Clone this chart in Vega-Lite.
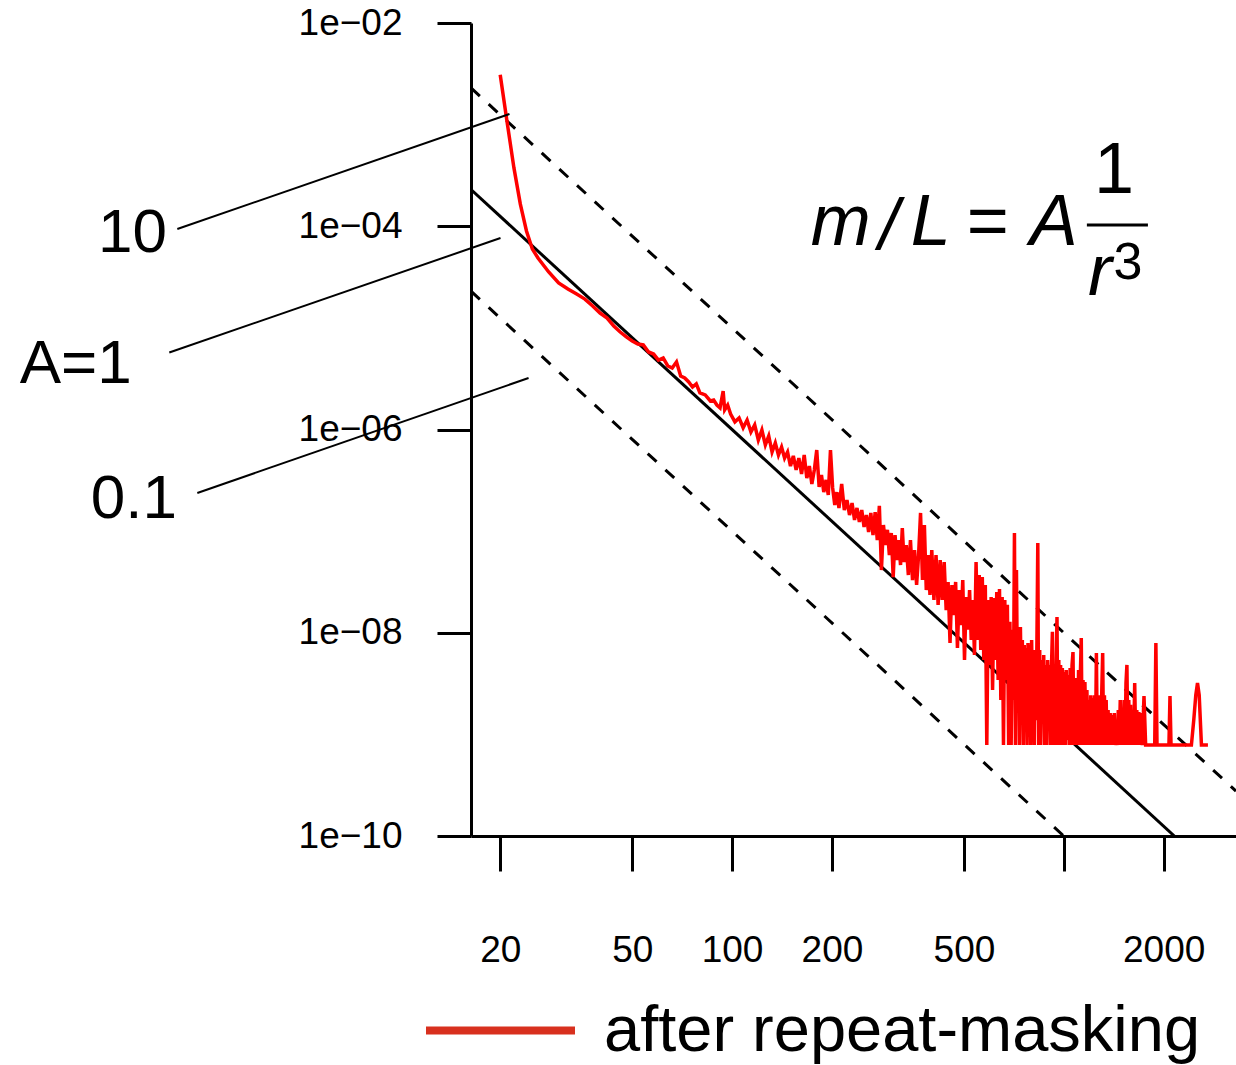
{
  "$schema": "https://vega.github.io/schema/vega-lite/v6.json",
  "width": 765,
  "height": 813,
  "autosize": {"type": "none"},
  "padding": {"left": 471, "top": 23, "right": 0, "bottom": 229},
  "background": "white",
  "config": {"view": {"stroke": null}, "font": "Liberation Sans"},
  "datasets": {
    "red": [
      {"r":20,"m":3.09e-3},{"r":21,"m":1.04e-3},{"r":22,"m":3.75e-4},{"r":23,"m":1.65e-4},{"r":24,"m":8.98e-5},{"r":25,"m":5.97e-5},{"r":26,"m":4.87e-5},{"r":28,"m":3.55e-5},{"r":30,"m":2.77e-5},{"r":32,"m":2.41e-5},{"r":34,"m":2.15e-5},{"r":36,"m":1.92e-5},{"r":38,"m":1.64e-5},{"r":40,"m":1.40e-5},{"r":42,"m":1.25e-5},{"r":44,"m":1.04e-5},{"r":46,"m":9.11e-6},{"r":48,"m":8.14e-6},{"r":50,"m":7.43e-6},
      {"r":52,"m":6.94e-6},{"r":54,"m":6.79e-6},{"r":56,"m":5.79e-6},{"r":58,"m":5.53e-6},{"r":60,"m":4.83e-6},{"r":62,"m":5.06e-6},{"r":64,"m":4.22e-6},{"r":66,"m":4.03e-6},{"r":68,"m":4.62e-6},{"r":70,"m":3.36e-6},{"r":72,"m":3.21e-6},{"r":74,"m":2.94e-6},{"r":76,"m":2.62e-6},{"r":78,"m":2.81e-6},{"r":80,"m":2.29e-6},{"r":83,"m":2.19e-6},{"r":86,"m":1.91e-6},{"r":88,"m":1.95e-6},{"r":90,"m":1.74e-6},{"r":92,"m":1.63e-6},{"r":94,"m":2.39e-6},{"r":95,"m":1.56e-6},{"r":97,"m":1.74e-6},{"r":99,"m":1.42e-6},{"r":102,"m":1.19e-6},{"r":105,"m":1.30e-6},{"r":108,"m":1.04e-6},{"r":111,"m":1.24e-6},{"r":114,"m":9.45e-7},{"r":117,"m":1.11e-6},{"r":120,"m":7.88e-7},{"r":123,"m":9.89e-7},{"r":126,"m":7.04e-7},{"r":129,"m":8.63e-7},{"r":132,"m":6.00e-7},{"r":135,"m":7.37e-7},{"r":138,"m":5.61e-7},{"r":141,"m":6.73e-7},{"r":144,"m":5.24e-7},{"r":147,"m":6.00e-7},{"r":150,"m":4.37e-7},{"r":153,"m":5.49e-7},{"r":156,"m":4.00e-7},{"r":159,"m":5.24e-7},{"r":162,"m":3.65e-7},{"r":165,"m":5.61e-7},{"r":168,"m":3.33e-7},{"r":171,"m":4.37e-7},{"r":174,"m":2.91e-7},{"r":177,"m":4.00e-7},{"r":180,"m":6.28e-7},{"r":183,"m":2.72e-7},{"r":186,"m":3.57e-7},{"r":189,"m":2.42e-7},{"r":192,"m":3.19e-7},{"r":195,"m":2.27e-7},{"r":198,"m":6.28e-7},{"r":201,"m":2.66e-7},{"r":204,"m":1.81e-7},{"r":207,"m":2.42e-7},{"r":210,"m":1.69e-7},{"r":214,"m":2.91e-7},{"r":218,"m":1.61e-7},{"r":222,"m":2.02e-7},{"r":226,"m":1.44e-7},{"r":230,"m":1.89e-7},{"r":234,"m":1.29e-7},{"r":238,"m":1.69e-7},{"r":242,"m":1.23e-7},{"r":246,"m":1.61e-7},{"r":250,"m":1.10e-7},
      {"r":254,"m":1.44e-7},{"r":258,"m":9.80e-8},{"r":262,"m":1.51e-7},{"r":266,"m":9.15e-8},{"r":270,"m":1.54e-7},{"r":274,"m":8.17e-8},{"r":278,"m":1.77e-7},{"r":282,"m":4.14e-8},{"r":286,"m":1.15e-7},{"r":290,"m":7.30e-8},{"r":294,"m":1.03e-7},{"r":298,"m":5.82e-8},{"r":302,"m":9.58e-8},{"r":306,"m":3.53e-8},{"r":310,"m":9.15e-8},{"r":314,"m":5.20e-8},{"r":318,"m":8.17e-8},{"r":322,"m":4.64e-8},{"r":326,"m":1.07e-7},{"r":330,"m":4.97e-8},{"r":335,"m":7.30e-8},{"r":340,"m":3.70e-8},{"r":345,"m":8.17e-8},{"r":350,"m":3.30e-8},{"r":355,"m":6.52e-8},{"r":360,"m":2.95e-8},{"r":365,"m":5.82e-8},{"r":370,"m":1.51e-7},{"r":375,"m":3.30e-8},{"r":380,"m":1.15e-7},{"r":385,"m":2.63e-8},{"r":390,"m":5.82e-8},{"r":395,"m":2.35e-8},{"r":400,"m":6.52e-8},{"r":406,"m":2.10e-8},{"r":412,"m":5.82e-8},{"r":418,"m":1.88e-8},{"r":424,"m":5.20e-8},{"r":430,"m":2.10e-8},{"r":436,"m":4.97e-8},{"r":442,"m":1.67e-8},{"r":448,"m":3.16e-8},{"r":454,"m":7.93e-9},{"r":460,"m":2.95e-8},{"r":466,"m":1.49e-8},{"r":472,"m":3.16e-8},{"r":478,"m":7.08e-9},{"r":484,"m":2.63e-8},{"r":490,"m":1.19e-8},{"r":496,"m":3.30e-8},{"r":502,"m":5.39e-9},{"r":508,"m":2.25e-8},{"r":514,"m":1.07e-8},{"r":520,"m":2.63e-8},{"r":526,"m":8.49e-9},{"r":532,"m":2.10e-8},{"r":538,"m":6.04e-9},{"r":544,"m":4.97e-8},{"r":550,"m":8.49e-9},{"r":556,"m":3.70e-8},{"r":562,"m":6.77e-9},{"r":568,"m":3.53e-8},{"r":574,"m":5.39e-9},{"r":580,"m":2.95e-8},
      {"r":586,"m":7.85e-10},{"r":592,"m":2.10e-8},{"r":598,"m":4.82e-9},{"r":604,"m":2.25e-8},{"r":610,"m":2.73e-9},{"r":616,"m":2.20e-8},{"r":622,"m":5.39e-9},{"r":628,"m":2.52e-8},{"r":634,"m":3.43e-9},{"r":640,"m":2.69e-8},{"r":646,"m":2.18e-9},{"r":652,"m":2.25e-8},{"r":658,"m":7.85e-10},{"r":664,"m":2.10e-8},{"r":670,"m":3.43e-9},{"r":676,"m":1.88e-8},{"r":682,"m":7.85e-10},{"r":688,"m":1.28e-8},{"r":694,"m":7.85e-10},{"r":700,"m":1.07e-8},{"r":705,"m":2.18e-9},{"r":710,"m":9.58e-8},{"r":715,"m":7.85e-10},{"r":720,"m":4.14e-8},{"r":725,"m":2.73e-9},{"r":730,"m":1.07e-8},{"r":735,"m":7.85e-10},{"r":740,"m":1.14e-8},{"r":745,"m":2.18e-9},{"r":750,"m":8.49e-9},{"r":755,"m":7.85e-10},{"r":760,"m":7.58e-9},{"r":765,"m":1.38e-9},{"r":770,"m":7.08e-9},{"r":775,"m":7.85e-10},{"r":780,"m":7.93e-9},{"r":785,"m":2.18e-9},{"r":790,"m":7.58e-9},{"r":795,"m":7.85e-10},{"r":800,"m":8.49e-9},{"r":805,"m":1.74e-9},{"r":810,"m":6.77e-9},{"r":815,"m":7.85e-10},{"r":820,"m":6.04e-9},{"r":825,"m":1.38e-9},{"r":830,"m":8.49e-9},{"r":835,"m":7.64e-8},{"r":840,"m":7.85e-10},{"r":846,"m":6.77e-9},{"r":852,"m":7.85e-10},{"r":858,"m":5.39e-9},{"r":864,"m":1.38e-9},{"r":870,"m":6.04e-9},{"r":876,"m":7.85e-10},{"r":882,"m":4.82e-9},{"r":888,"m":7.85e-10},{"r":894,"m":5.39e-9},{"r":900,"m":2.18e-9},{"r":906,"m":4.82e-9},{"r":912,"m":7.85e-10},{"r":918,"m":4.50e-9},{"r":924,"m":1.02e-8},{"r":930,"m":7.85e-10},{"r":936,"m":4.82e-9},{"r":942,"m":7.85e-10},{"r":948,"m":4.30e-9},{"r":954,"m":1.43e-8},{"r":960,"m":7.85e-10},{"r":966,"m":5.39e-9},{"r":972,"m":7.85e-10},{"r":978,"m":4.82e-9},{"r":984,"m":1.24e-9},{"r":990,"m":4.50e-9},{"r":996,"m":7.85e-10},
      {"r":1003,"m":4.11e-9},{"r":1010,"m":7.85e-10},{"r":1017,"m":4.30e-9},{"r":1024,"m":8.81e-10},{"r":1031,"m":3.84e-9},{"r":1038,"m":7.85e-10},{"r":1045,"m":4.50e-9},{"r":1052,"m":7.85e-10},{"r":1059,"m":4.82e-9},{"r":1066,"m":6.46e-9},{"r":1073,"m":7.85e-10},{"r":1080,"m":3.43e-9},{"r":1087,"m":7.85e-10},{"r":1094,"m":3.58e-9},{"r":1101,"m":7.85e-10},{"r":1108,"m":4.30e-9},{"r":1115,"m":7.85e-10},{"r":1122,"m":3.84e-9},{"r":1129,"m":8.88e-9},{"r":1136,"m":7.85e-10},{"r":1143,"m":3.43e-9},{"r":1150,"m":7.85e-10},{"r":1158,"m":3.27e-9},{"r":1166,"m":7.85e-10},{"r":1174,"m":2.73e-9},{"r":1182,"m":7.85e-10},{"r":1190,"m":2.18e-9},{"r":1198,"m":7.85e-10},{"r":1206,"m":2.43e-9},{"r":1214,"m":7.85e-10},{"r":1222,"m":2.28e-9},{"r":1230,"m":7.85e-10},{"r":1238,"m":2.43e-9},{"r":1246,"m":7.85e-10},{"r":1254,"m":6.32e-9},{"r":1262,"m":7.85e-10},{"r":1270,"m":2.43e-9},{"r":1278,"m":7.85e-10},{"r":1286,"m":2.18e-9},{"r":1294,"m":7.85e-10},{"r":1302,"m":2.73e-9},{"r":1310,"m":6.32e-9},{"r":1318,"m":7.85e-10},{"r":1326,"m":2.43e-9},{"r":1334,"m":7.85e-10},{"r":1342,"m":2.18e-9},{"r":1350,"m":7.85e-10},{"r":1360,"m":1.74e-9},{"r":1370,"m":7.85e-10},{"r":1380,"m":1.62e-9},{"r":1390,"m":7.85e-10},{"r":1400,"m":1.55e-9},{"r":1410,"m":7.85e-10},{"r":1420,"m":1.62e-9},{"r":1430,"m":7.85e-10},{"r":1440,"m":1.38e-9},{"r":1450,"m":7.85e-10},{"r":1460,"m":1.74e-9},{"r":1470,"m":7.85e-10},{"r":1480,"m":2.18e-9},{"r":1490,"m":7.85e-10},{"r":1500,"m":1.74e-9},{"r":1510,"m":7.85e-10},{"r":1520,"m":2.18e-9},{"r":1530,"m":7.85e-10},{"r":1540,"m":3.20e-9},{"r":1550,"m":4.82e-9},{"r":1560,"m":7.85e-10},{"r":1570,"m":2.18e-9},{"r":1580,"m":7.85e-10},{"r":1590,"m":1.95e-9},{"r":1600,"m":7.85e-10},{"r":1612,"m":1.74e-9},{"r":1624,"m":7.85e-10},{"r":1636,"m":3.20e-9},{"r":1648,"m":7.85e-10},{"r":1660,"m":1.74e-9},{"r":1672,"m":7.85e-10},{"r":1684,"m":1.66e-9},{"r":1696,"m":7.85e-10},{"r":1710,"m":1.62e-9},{"r":1725,"m":7.85e-10},{"r":1745,"m":2.38e-9},{"r":1765,"m":7.85e-10},{"r":1880,"m":7.85e-10},{"r":1895,"m":7.93e-9},{"r":1910,"m":7.85e-10},{"r":2075,"m":7.85e-10},{"r":2090,"m":2.38e-9},{"r":2105,"m":7.85e-10},{"r":2425,"m":7.85e-10},{"r":2465,"m":1.38e-9},{"r":2500,"m":2.43e-9},{"r":2530,"m":3.20e-9},{"r":2560,"m":2.43e-9},{"r":2600,"m":7.85e-10},{"r":2720,"m":7.85e-10}
    ],
    "solid": [{"r":16.33,"m":2.296e-4},{"r":2154,"m":1.0e-10}],
    "dashed": [
      {"A":"10","r":16.33,"m":2.296e-3},{"A":"10","r":3305,"m":2.77e-10},
      {"A":"0.1","r":16.33,"m":2.296e-5},{"A":"0.1","r":1000,"m":1.0e-10}
    ],
    "leaders": [
      {"id":"a","r":2.126,"m":9.394e-5},{"id":"a","r":21.33,"m":1.272e-3},
      {"id":"b","r":2.011,"m":5.724e-6},{"id":"b","r":20.04,"m":7.66e-5},
      {"id":"c","r":2.443,"m":2.373e-7},{"id":"c","r":24.35,"m":3.211e-6}
    ],
    "annot": [
      {"label":"10","r":1.98,"m":5.58e-5},
      {"label":"A=1","r":1.55,"m":2.868e-6},
      {"label":"0.1","r":2.12,"m":1.346e-7}
    ],
    "formItalic": [
      {"t":"m","r":212.6,"m":6.536e-5},
      {"t":"/","r":296.8,"m":5.838e-5},
      {"t":"L","r":397.2,"m":6.536e-5},
      {"t":"A","r":933.4,"m":6.536e-5},
      {"t":"r","r":1285,"m":2.106e-5}
    ],
    "formUpright": [
      {"t":"=","r":590.3,"m":6.536e-5},
      {"t":"1","r":1416.4,"m":2.125e-4}
    ],
    "formSup": [{"t":"3","r":1560,"m":3.05e-5}],
    "formBar": [{"r":1173.9,"r2":1793.4,"m":1.029e-4}],
    "legendOnly": []
  },
  "layer": [
    {
      "data": {"name": "dashed"},
      "mark": {"type": "line", "stroke": "black", "strokeWidth": 3, "strokeDash": [12, 12], "clip": true},
      "encoding": {
        "x": {"field": "r", "type": "quantitative", "scale": {"type": "log", "domain": [16.33, 3305], "nice": false},
          "axis": {"values": [20, 50, 100, 200, 500, 1000, 2000], "format": "d", "labelExpr": "datum.value == 1000 ? '' : datum.label", "title": null, "grid": false, "tickSize": 35, "tickWidth": 3, "tickColor": "black", "domainWidth": 3, "domainColor": "black", "labelFontSize": 37, "labelFont": "Liberation Sans", "labelColor": "black", "labelPadding": 61, "labelOverlap": false, "labelFlush": false}},
        "y": {"field": "m", "type": "quantitative", "scale": {"type": "log", "domain": [1e-10, 1e-2], "nice": false},
          "axis": {"values": [1e-2, 1e-4, 1e-6, 1e-8, 1e-10], "labelExpr": "'1e−' + (abs(round(log(datum.value)/LN10)) < 10 ? '0' : '') + abs(round(log(datum.value)/LN10))", "title": null, "grid": false, "tickSize": 34, "tickWidth": 3, "tickColor": "black", "domainWidth": 3, "domainColor": "black", "labelFontSize": 37, "labelFont": "Liberation Sans", "labelColor": "black", "labelPadding": 35, "labelOverlap": false, "labelFlush": false}},
        "detail": {"field": "A", "type": "nominal"}
      }
    },
    {
      "data": {"name": "solid"},
      "mark": {"type": "line", "stroke": "black", "strokeWidth": 3, "clip": true},
      "encoding": {
        "x": {"field": "r", "type": "quantitative"},
        "y": {"field": "m", "type": "quantitative"}
      }
    },
    {
      "data": {"name": "red"},
      "mark": {"type": "line", "stroke": "#ff0000", "strokeWidth": 3.5, "clip": true},
      "encoding": {
        "x": {"field": "r", "type": "quantitative"},
        "y": {"field": "m", "type": "quantitative"}
      }
    },
    {
      "data": {"name": "legendOnly"},
      "mark": {"type": "line", "strokeWidth": 8},
      "encoding": {
        "x": {"field": "r", "type": "quantitative"},
        "y": {"field": "m", "type": "quantitative"},
        "color": {"datum": "after repeat-masking", "type": "nominal",
          "scale": {"domain": ["after repeat-masking"], "range": ["#d8301e"]},
          "legend": {"orient": "none", "legendX": -49, "legendY": 929, "title": null, "symbolType": "stroke", "symbolSize": 22200, "symbolStrokeWidth": 8, "labelFontSize": 65, "labelFont": "Liberation Sans", "labelColor": "black", "labelOffset": 25, "labelLimit": 2000, "padding": 0}
        }
      }
    },
    {
      "mark": {"type": "rule", "stroke": "black", "strokeWidth": 3},
      "encoding": {"y": {"datum": 0.01, "type": "quantitative"}}
    },
    {
      "data": {"name": "leaders"},
      "mark": {"type": "line", "stroke": "black", "strokeWidth": 2, "clip": false},
      "encoding": {
        "x": {"field": "r", "type": "quantitative"},
        "y": {"field": "m", "type": "quantitative"},
        "detail": {"field": "id", "type": "nominal"}
      }
    },
    {
      "data": {"name": "annot"},
      "mark": {"type": "text", "align": "right", "baseline": "alphabetic", "fontSize": 62, "font": "Liberation Sans", "color": "black", "clip": false},
      "encoding": {
        "x": {"field": "r", "type": "quantitative"},
        "y": {"field": "m", "type": "quantitative"},
        "text": {"field": "label", "type": "nominal"}
      }
    },
    {
      "data": {"name": "formItalic"},
      "mark": {"type": "text", "align": "center", "baseline": "alphabetic", "fontSize": 72, "fontStyle": "italic", "font": "Liberation Sans", "color": "black"},
      "encoding": {
        "x": {"field": "r", "type": "quantitative"},
        "y": {"field": "m", "type": "quantitative"},
        "text": {"field": "t", "type": "nominal"}
      }
    },
    {
      "data": {"name": "formUpright"},
      "mark": {"type": "text", "align": "center", "baseline": "alphabetic", "fontSize": 72, "font": "Liberation Sans", "color": "black"},
      "encoding": {
        "x": {"field": "r", "type": "quantitative"},
        "y": {"field": "m", "type": "quantitative"},
        "text": {"field": "t", "type": "nominal"}
      }
    },
    {
      "data": {"name": "formSup"},
      "mark": {"type": "text", "align": "center", "baseline": "alphabetic", "fontSize": 52, "font": "Liberation Sans", "color": "black"},
      "encoding": {
        "x": {"field": "r", "type": "quantitative"},
        "y": {"field": "m", "type": "quantitative"},
        "text": {"field": "t", "type": "nominal"}
      }
    },
    {
      "data": {"name": "formBar"},
      "mark": {"type": "rule", "stroke": "black", "strokeWidth": 3},
      "encoding": {
        "x": {"field": "r", "type": "quantitative"},
        "x2": {"field": "r2"},
        "y": {"field": "m", "type": "quantitative"}
      }
    }
  ]
}
